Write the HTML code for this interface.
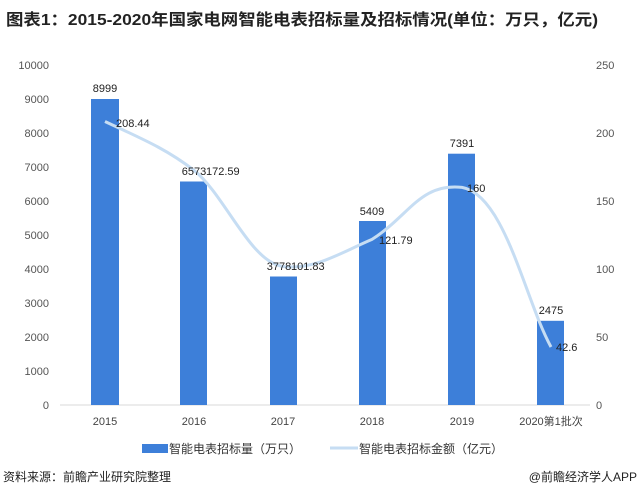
<!DOCTYPE html>
<html><head><meta charset="utf-8"><style>
body{margin:0;background:#fff;width:641px;height:494px;overflow:hidden}
svg text{font-family:"Liberation Sans","Noto Sans CJK SC",sans-serif}
</style></head><body>
<svg width="641" height="494" xmlns="http://www.w3.org/2000/svg">
<text x="6" y="25" font-size="16" font-weight="bold" fill="#222" textLength="592" lengthAdjust="spacingAndGlyphs">图表1：2015-2020年国家电网智能电表招标量及招标情况(单位：万只，亿元)</text>
<g font-size="11" fill="#555" text-anchor="end">
<text x="49" y="69">10000</text><text x="49" y="103">9000</text><text x="49" y="137">8000</text><text x="49" y="171">7000</text><text x="49" y="205">6000</text><text x="49" y="239">5000</text><text x="49" y="273">4000</text><text x="49" y="307">3000</text><text x="49" y="341">2000</text><text x="49" y="375">1000</text><text x="49" y="409">0</text>
</g>
<g font-size="11" fill="#555" text-anchor="start">
<text x="596" y="69">250</text><text x="596" y="137">200</text><text x="596" y="205">150</text><text x="596" y="273">100</text><text x="596" y="341">50</text><text x="596" y="409">0</text>
</g>
<line x1="60" y1="405" x2="590" y2="405" stroke="#d9d9d9"/>
<g fill="#3d7fd9">
<rect x="91" y="99" width="28" height="306"/>
<rect x="180" y="181.5" width="27" height="223.5"/>
<rect x="270" y="276.5" width="27" height="128.5"/>
<rect x="359" y="221" width="27" height="184"/>
<rect x="448" y="153.7" width="27" height="251.3"/>
<rect x="537" y="320.8" width="27" height="84.2"/>
</g>
<path d="M105,121.5 C140,138 165,148 194,170.3 C225,195 250,262 283,266.5 C315,270 340,253 372,239.4 C410,215 420,183 462,187.4 C505,195 525,300 551,347" fill="none" stroke="#c6ddf3" stroke-width="3"/>
<g font-size="11" fill="#222">
<text x="105" y="92" text-anchor="middle">8999</text>
<text x="194" y="175" text-anchor="middle">6573</text>
<text x="279" y="270" text-anchor="middle">3778</text>
<text x="372" y="215" text-anchor="middle">5409</text>
<text x="462" y="147" text-anchor="middle">7391</text>
<text x="551" y="314" text-anchor="middle">2475</text>
<text x="116" y="127">208.44</text>
<text x="206" y="175">172.59</text>
<text x="291" y="270">101.83</text>
<text x="379" y="244">121.79</text>
<text x="467" y="192">160</text>
<text x="556" y="351">42.6</text>
</g>
<g font-size="11" fill="#444" text-anchor="middle">
<text x="105" y="425">2015</text><text x="194" y="425">2016</text><text x="283" y="425">2017</text><text x="372" y="425">2018</text><text x="462" y="425">2019</text><text x="551" y="425">2020第1批次</text>
</g>
<rect x="142" y="444" width="26" height="9" fill="#3d7fd9"/>
<text x="169" y="453" font-size="12" fill="#333">智能电表招标量（万只）</text>
<line x1="330" y1="448" x2="358" y2="448" stroke="#c6ddf3" stroke-width="3"/>
<text x="359" y="453" font-size="12" fill="#333">智能电表招标金额（亿元）</text>
<text x="3" y="481" font-size="12" fill="#222">资料来源：前瞻产业研究院整理</text>
<text x="637" y="481" font-size="12" fill="#222" text-anchor="end">@前瞻经济学人APP</text>
</svg>
</body></html>
